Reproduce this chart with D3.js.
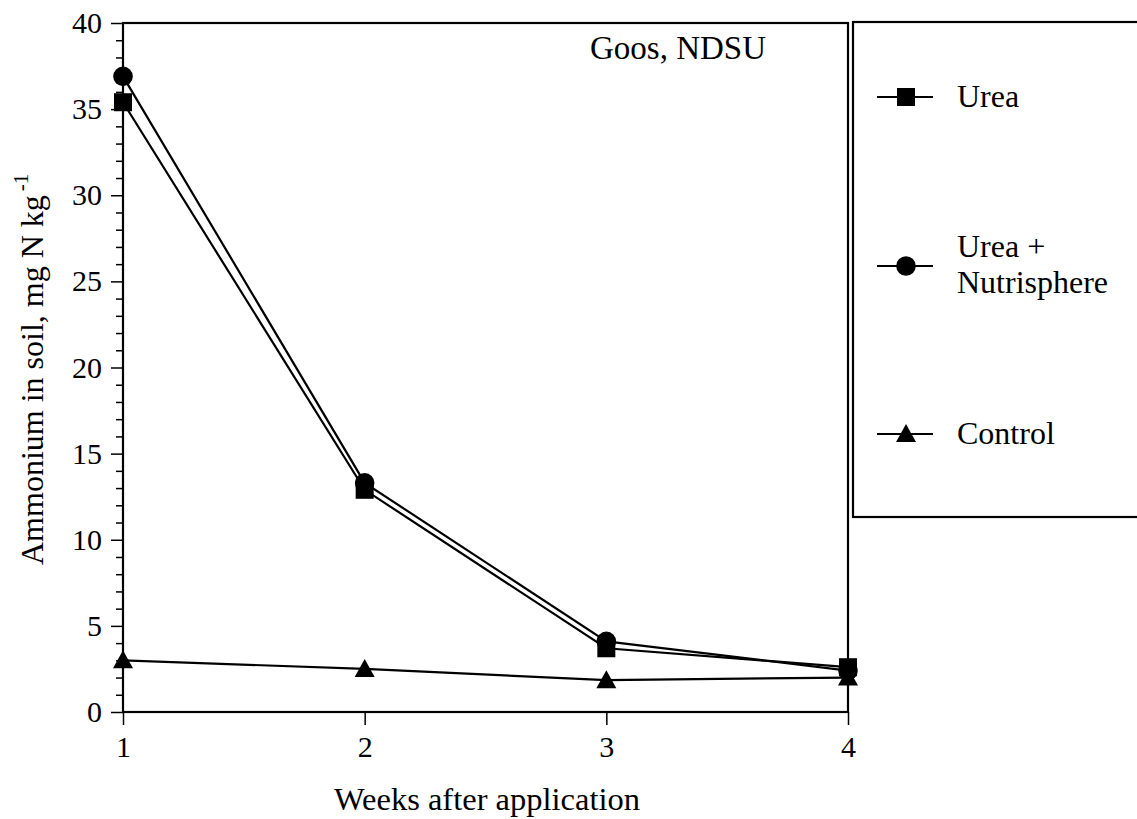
<!DOCTYPE html>
<html>
<head>
<meta charset="utf-8">
<script src="https://cdn.jsdelivr.net/npm/d3@7"></script>
<style>
  html, body { margin: 0; padding: 0; background: #fff; }
  svg { display: block; }
  svg text { font-family: "Liberation Serif", "Times New Roman", Times, serif !important; fill: #000; }
</style>
</head>
<body>
<svg id="chart" width="1137" height="819"></svg>
<script>
// ---- data ----
const weeks = [1, 2, 3, 4];
const urea = [35.4, 12.9, 3.7, 2.6];
const ureaNutrisphere = [36.9, 13.3, 4.1, 2.4];
const control = [3.0, 2.5, 1.85, 2.0];
const seriesNames = ["Urea", "Urea + Nutrisphere", "Control"];
const yMajorTicks = [0, 5, 10, 15, 20, 25, 30, 35, 40];
const xTickLabels = ["1", "2", "3", "4"];

const FONT = '"Liberation Serif", "Times New Roman", Times, serif';
const svg = d3.select("#chart");
svg.append("rect").attr("width", 1137).attr("height", 819).attr("fill", "#fff");

const x = d3.scaleLinear().domain([1, 4]).range([123, 848]);
const y = d3.scaleLinear().domain([0, 40]).range([712, 23]);

// minor y ticks
const minor = d3.range(0, 41).filter(v => v % 5 !== 0);
svg.append("g")
  .attr("transform", "translate(123,0)")
  .call(d3.axisLeft(y).tickValues(minor).tickSize(7).tickFormat(""))
  .call(g => g.select(".domain").remove())
  .call(g => g.selectAll("line").attr("stroke", "#000").attr("stroke-width", 1.5));

// major y ticks
svg.append("g")
  .attr("transform", "translate(123,0)")
  .call(d3.axisLeft(y).tickValues(yMajorTicks).tickSize(12).tickPadding(9))
  .attr("font-family", FONT)
  .call(g => g.select(".domain").remove())
  .call(g => g.selectAll("line").attr("stroke", "#000").attr("stroke-width", 1.5))
  .call(g => g.selectAll("text").attr("font-size", 30).style("font-family", FONT).attr("fill", "#000"));

// x ticks
svg.append("g")
  .attr("transform", "translate(0,712)")
  .call(d3.axisBottom(x).tickValues(weeks).tickSize(13).tickPadding(11)
        .tickFormat((d, i) => xTickLabels[i]))
  .attr("font-family", FONT)
  .call(g => g.select(".domain").remove())
  .call(g => g.selectAll("line").attr("stroke", "#000").attr("stroke-width", 1.5))
  .call(g => g.selectAll("text").attr("font-size", 30).style("font-family", FONT).attr("fill", "#000"));

// plot frame
svg.append("rect")
  .attr("x", x(1)).attr("y", y(40))
  .attr("width", x(4) - x(1)).attr("height", y(0) - y(40))
  .attr("fill", "none").attr("stroke", "#000").attr("stroke-width", 2.2);

// legend frame (right side runs off the page)
svg.append("rect")
  .attr("x", 853).attr("y", 22).attr("width", 320).attr("height", 495)
  .attr("fill", "none").attr("stroke", "#000").attr("stroke-width", 2.2);

// series
const allSeries = [
  { name: seriesNames[0], values: urea, sym: "square" },
  { name: seriesNames[1], values: ureaNutrisphere, sym: "circle" },
  { name: seriesNames[2], values: control, sym: "triangle" }
];
const line = d3.line().x((d, i) => x(weeks[i])).y(d => y(d));
svg.append("g").selectAll("path").data(allSeries).join("path")
  .attr("d", s => line(s.values))
  .attr("fill", "none").attr("stroke", "#000").attr("stroke-width", 2.2);

function drawMarker(g, type, cx, cy) {
  if (type === "square") {
    g.append("rect").attr("x", cx - 9).attr("y", cy - 9).attr("width", 18).attr("height", 18).attr("fill", "#000");
  } else if (type === "circle") {
    g.append("circle").attr("cx", cx).attr("cy", cy).attr("r", 9.8).attr("fill", "#000");
  } else {
    g.append("path").attr("d", `M${cx},${cy - 10}L${cx + 10},${cy + 8}L${cx - 10},${cy + 8}Z`).attr("fill", "#000");
  }
}
const mk = svg.append("g");
allSeries.forEach(s => s.values.forEach((v, i) => drawMarker(mk, s.sym, x(weeks[i]), y(v))));

// annotation
svg.append("text").attr("x", 678).attr("y", 59).attr("text-anchor", "middle")
  .attr("font-size", 33).style("font-family", FONT).text("Goos, NDSU");

// axis titles
svg.append("text").attr("x", 487).attr("y", 810).attr("text-anchor", "middle")
  .attr("font-size", 32.5).style("font-family", FONT).text("Weeks after application");

const yt = svg.append("text").attr("transform", "translate(43,565) rotate(-90)")
  .attr("font-size", 32).style("font-family", FONT);
yt.append("tspan").text("Ammonium in soil, mg N kg");
yt.append("tspan").attr("font-size", 21).attr("dy", -15).attr("dx", 4).text("-1");

// legend
const legendItems = [
  { sym: "square", y: 97, lines: [{ t: "Urea", b: 107 }] },
  { sym: "circle", y: 266, lines: [{ t: "Urea +", b: 257 }, { t: "Nutrisphere", b: 293 }] },
  { sym: "triangle", y: 434, lines: [{ t: "Control", b: 444 }] }
];
const lg = svg.append("g");
legendItems.forEach(it => {
  lg.append("line").attr("x1", 877).attr("x2", 933).attr("y1", it.y).attr("y2", it.y)
    .attr("stroke", "#000").attr("stroke-width", 2);
  drawMarker(lg, it.sym, 906, it.y);
  it.lines.forEach(l => lg.append("text").attr("x", 957).attr("y", l.b).attr("font-size", 32)
    .style("font-family", FONT).text(l.t));
});
</script>
</body>
</html>
